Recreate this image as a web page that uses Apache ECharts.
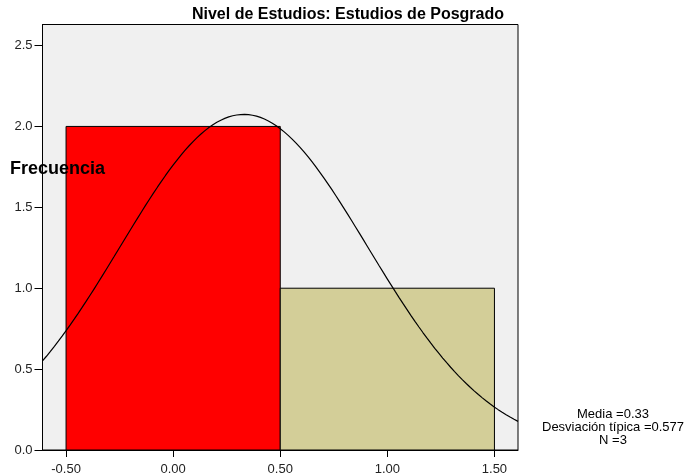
<!DOCTYPE html>
<html>
<head>
<meta charset="utf-8">
<script src="https://cdn.jsdelivr.net/npm/echarts@6/dist/echarts.min.js"></script>
<style>
  html, body { margin: 0; padding: 0; background: #fff; }
  #chart { width: 686px; height: 476px; }
</style>
</head>
<body>
<div id="chart"></div>
<script>
// histogram bins: [start, end, frequency]
var binStarts = [-0.5, 0.5]
var binEnds = [0.5, 1.5]
var frequencies = [2, 1]
var binColors = ['#FF0000', '#D3CE98']

var xTicks = [-0.5, 0, 0.5, 1, 1.5]
var yTicks = [0, 0.5, 1, 1.5, 2, 2.5]

// stats shown in the corner, also used for the normal curve
var mean = 0.33
var stdDev = 0.577
var n = 3
var binWidth = 1

var xMin = -0.61
var xMax = 1.61
var yMax = 2.63

var chart = echarts.init(document.getElementById('chart'))

// fitted normal curve, scaled to frequencies
var curve = []
var steps = 120
for (var i = 0; i <= steps; i++) {
  var x = xMin + (xMax - xMin) * i / steps
  var z = (x - mean) / stdDev
  var y = n * binWidth * Math.exp(-0.5 * z * z) / (stdDev * Math.sqrt(2 * Math.PI))
  curve.push([x, y])
}

var bins = binStarts.map(function(s, i) {
  return [s, binEnds[i], frequencies[i]]
})

var labelFont = { fontFamily: 'Liberation Sans, Arial, sans-serif', fontSize: 13, color: '#222' }

chart.setOption({
  animation: false,
  title: {
    text: 'Nivel de Estudios: Estudios de Posgrado',
    left: 343,
    textAlign: 'center',
    top: 2,
    textStyle: { fontFamily: 'Liberation Sans, Arial, sans-serif', fontSize: 16, fontWeight: 'bold', color: '#000' }
  },
  graphic: [
    {
      type: 'text',
      left: 10,
      top: 160,
      z: 100,
      style: { text: 'Frecuencia', font: 'bold 18px "Liberation Sans", Arial, sans-serif', fill: '#000' }
    },
    {
      type: 'text',
      x: 613,
      y: 408,
      z: 100,
      style: {
        text: 'Media =0.33\nDesviación típica =0.577\nN =3',
        font: '13px "Liberation Sans", Arial, sans-serif',
        fill: '#000',
        align: 'center',
        lineHeight: 13
      }
    }
  ],
  grid: {
    left: 42.5,
    top: 24.5,
    right: 168,
    bottom: 26,
    show: true,
    backgroundColor: '#F0F0F0',
    borderColor: '#000',
    borderWidth: 1
  },
  xAxis: {
    type: 'value',
    min: xMin,
    max: xMax,
    axisLine: { show: true, onZero: false, lineStyle: { color: '#000' } },
    splitLine: { show: false },
    axisTick: {
      show: true,
      length: 7,
      customValues: xTicks,
      lineStyle: { color: '#000' }
    },
    axisLabel: Object.assign({
      customValues: xTicks,
      margin: 13,
      formatter: function(v) { return v.toFixed(2) }
    }, labelFont)
  },
  yAxis: {
    type: 'value',
    min: 0,
    max: yMax,
    axisLine: { show: true, onZero: false, lineStyle: { color: '#000' } },
    splitLine: { show: false },
    axisTick: {
      show: true,
      length: 8,
      customValues: yTicks,
      lineStyle: { color: '#000' }
    },
    axisLabel: Object.assign({
      customValues: yTicks,
      margin: 10,
      formatter: function(v) { return v.toFixed(1) }
    }, labelFont)
  },
  series: [
    {
      type: 'custom',
      data: bins,
      clip: true,
      renderItem: function(params, api) {
        var p0 = api.coord([api.value(0), api.value(2)])
        var p1 = api.coord([api.value(1), 0])
        return {
          type: 'rect',
          shape: { x: p0[0], y: p0[1], width: p1[0] - p0[0], height: p1[1] - p0[1] },
          style: { fill: binColors[params.dataIndex], stroke: '#000', lineWidth: 1 }
        }
      },
      encode: { x: [0, 1], y: 2 }
    },
    {
      type: 'line',
      data: curve,
      showSymbol: false,
      smooth: false,
      clip: true,
      lineStyle: { color: '#000', width: 1.2 },
      z: 5
    }
  ]
})
</script>
</body>
</html>
